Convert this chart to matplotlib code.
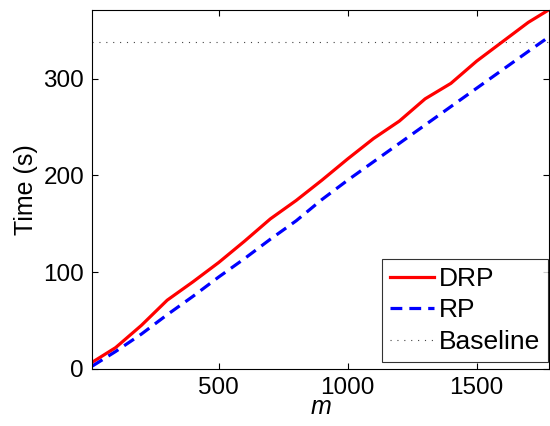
import matplotlib
matplotlib.use('Agg')
import matplotlib.pyplot as plt

# data
m = [10, 100, 200, 300, 400, 500, 600, 700, 800, 900, 1000,
     1100, 1200, 1300, 1400, 1500, 1600, 1700, 1780]
drp = [7, 22, 45, 71, 90, 110, 132, 155, 174, 195, 217,
       238, 256, 279, 295, 318, 338, 358, 371]
rp = [3, 18, 36, 56, 75, 95, 114, 134, 153, 175, 195,
      214, 233, 252, 271, 290, 309, 328, 343]
baseline = 338

plt.rcParams['font.family'] = ['Liberation Sans', 'DejaVu Sans']

fig = plt.figure(figsize=(5.5, 4.26), dpi=100)
ax = fig.add_axes([0.168, 0.134, 0.83, 0.843])

ax.plot(m, drp, color='red', lw=2.3, label='DRP')
ax.plot(m, rp, color='blue', lw=2.3, ls=(0, (3.7, 2.2)), label='RP')
ax.axhline(baseline, color='#444444', lw=0.8, ls=(0, (1, 5.2)), label='Baseline')

ax.set_xlim(min(m), max(m))
ax.set_ylim(0, max(drp))
ax.set_xticks([500, 1000, 1500])
ax.set_yticks([0, 100, 200, 300])
ax.tick_params(direction='in', top=True, right=True, labelsize=17.5,
               length=4, width=0.8, pad=6)
ax.set_xlabel('m', fontsize=18, fontstyle='italic', labelpad=-3)
ax.set_ylabel('Time (s)', fontsize=18, labelpad=4)

leg = ax.legend(loc='lower right', bbox_to_anchor=(0.998, 0.02), fontsize=19,
                frameon=True, fancybox=False,
                handlelength=1.65, handletextpad=0.2, borderpad=0.3,
                labelspacing=0.28, borderaxespad=0)
leg.get_frame().set_edgecolor('black')
leg.get_frame().set_linewidth(0.8)

plt.savefig('out.png', dpi=100)
